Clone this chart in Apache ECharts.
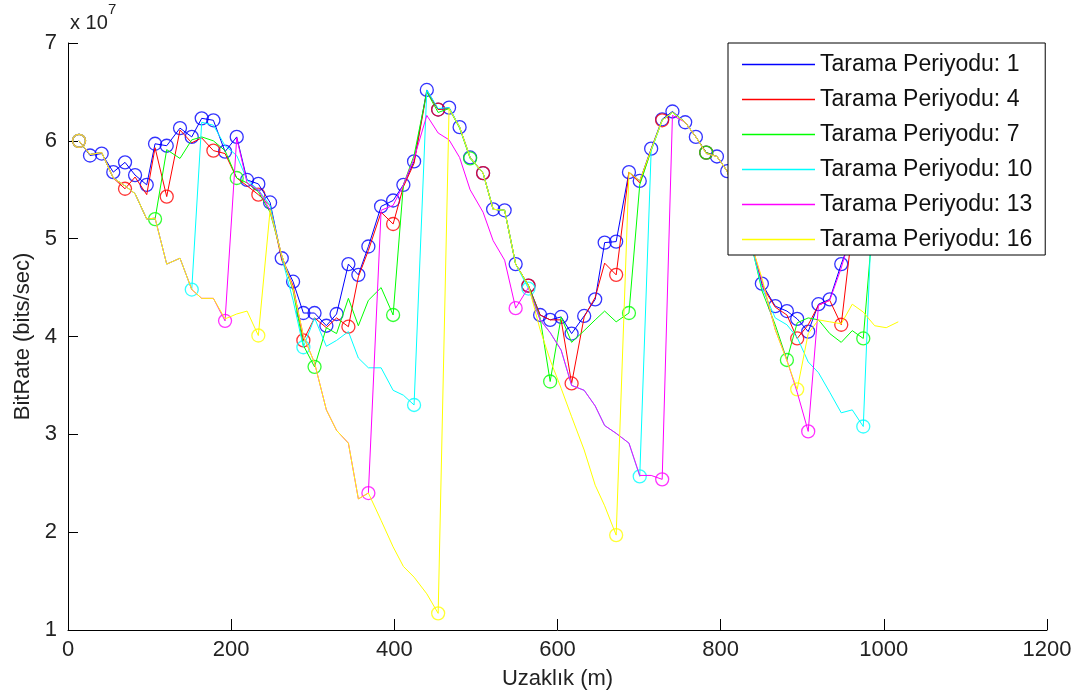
<!DOCTYPE html>
<html><head><meta charset="utf-8">
<script src="https://cdn.jsdelivr.net/npm/echarts@6/dist/echarts.min.js"></script>
<style>html,body{margin:0;padding:0;background:#fff}#c{width:1080px;height:700px}</style>
</head><body><div id="c"></div>
<script>
// Distance (m) of each sample
const distance = [13.5, 27.0, 41.3, 55.5, 69.9, 82.2, 96.5, 106.7, 121.0, 137.3,
151.7, 163.9, 178.2, 192.5, 206.8, 219.5, 233.3, 247.7, 262.0, 275.9,
288.5, 302.2, 316.7, 329.2, 343.7, 355.9, 368.2, 383.8, 398.5, 411.1,
424.2, 439.8, 453.7, 467.1, 480.0, 492.9, 508.8, 521.1, 535.2, 548.7,
564.4, 578.7, 591.0, 604.5, 617.3, 632.7, 646.2, 657.8, 671.9, 687.6,
700.8, 714.8, 728.3, 740.9, 756.5, 769.6, 782.3, 795.4, 808.0, 822.7,
836.2, 850.5, 866.9, 881.2, 893.8, 907.3, 919.9, 933.7, 947.8, 961.3,
974.8, 988.8, 1002.9, 1017.7];

// BitRate in units of 10^7 bits/sec
const period1 = [6.00, 5.85, 5.87, 5.68, 5.78, 5.65, 5.55, 5.97, 5.95, 6.13,
6.04, 6.23, 6.21, 5.89, 6.04, 5.60, 5.56, 5.37, 4.80, 4.56,
4.24, 4.24, 4.11, 4.23, 4.74, 4.63, 4.92, 5.33, 5.39, 5.55,
5.79, 6.52, 6.32, 6.34, 6.14, 5.83, 5.67, 5.30, 5.29, 4.74,
4.52, 4.22, 4.17, 4.20, 4.03, 4.21, 4.38, 4.96, 4.97, 5.68,
5.59, 5.92, 6.22, 6.30, 6.19, 6.04, 5.88, 5.84, 5.69, 5.34,
5.00, 4.54, 4.31, 4.26, 4.18, 4.05, 4.33, 4.38, 4.74, 5.04,
5.34, 5.50, 5.60, 5.65];

const period4 = [6.00, 5.86, 5.88, 5.62, 5.51, 5.63, 5.45, 5.93, 5.43, 6.11,
5.98, 6.03, 5.90, 5.87, 5.62, 5.54, 5.45, 5.34, 4.78, 4.52,
3.96, 4.19, 4.09, 4.19, 4.10, 4.61, 4.88, 5.27, 5.15, 5.53,
5.77, 6.50, 6.32, 6.33, 6.14, 5.83, 5.67, 5.30, 5.29, 4.74,
4.52, 4.22, 4.17, 4.17, 3.52, 4.20, 4.40, 4.75, 4.63, 5.68,
5.57, 5.91, 6.21, 6.29, 6.19, 6.04, 5.88, 5.84, 5.69, 5.34,
5.00, 4.52, 4.30, 4.22, 3.98, 4.12, 4.32, 4.37, 4.12, 5.09,
5.34, 5.50, 5.60, 5.65];

const period7 = [6.00, 5.86, 5.88, 5.62, 5.54, 5.46, 5.20, 5.20, 5.91, 5.82,
6.01, 6.04, 6.00, 5.90, 5.62, 5.57, 5.48, 5.27, 4.83, 4.47,
3.91, 3.69, 4.09, 4.03, 4.39, 4.11, 4.37, 4.50, 4.22, 5.55,
5.85, 6.50, 6.29, 6.33, 6.13, 5.82, 5.67, 5.30, 5.29, 4.74,
4.52, 4.19, 3.54, 4.20, 3.94, 4.06, 4.17, 4.26, 4.15, 4.24,
5.55, 5.90, 6.21, 6.29, 6.19, 6.04, 5.88, 5.84, 5.69, 5.34,
5.00, 4.47, 4.12, 3.76, 4.14, 4.19, 4.17, 4.03, 3.94, 4.06,
3.98, 5.39, 5.55, 5.62];

const period10 = [6.00, 5.86, 5.88, 5.62, 5.54, 5.46, 5.20, 5.21, 4.74, 4.80,
4.48, 6.19, 6.16, 5.95, 5.85, 5.60, 5.50, 5.34, 4.81, 4.37,
3.89, 4.19, 3.90, 3.96, 4.05, 3.78, 3.68, 3.68, 3.45, 3.40,
3.30, 6.52, 6.33, 6.34, 6.14, 5.83, 5.67, 5.30, 5.29, 4.74,
4.49, 4.17, 4.04, 3.86, 3.50, 3.45, 3.29, 3.09, 3.01, 2.91,
2.57, 5.90, 6.21, 6.29, 6.19, 6.04, 5.87, 5.84, 5.69, 5.34,
4.98, 4.50, 4.19, 4.12, 3.99, 3.74, 3.63, 3.43, 3.22, 3.25,
3.08, 5.99, 5.65, 5.70];

const period13 = [6.00, 5.86, 5.88, 5.62, 5.54, 5.46, 5.20, 5.21, 4.74, 4.80,
4.48, 4.39, 4.39, 4.16, 6.03, 5.57, 5.50, 5.29, 4.83, 4.49,
4.01, 3.73, 3.25, 3.04, 2.91, 2.34, 2.40, 5.29, 5.34, 5.55,
5.82, 6.26, 6.08, 6.01, 5.83, 5.50, 5.27, 4.98, 4.78, 4.29,
4.50, 4.17, 4.04, 3.86, 3.50, 3.45, 3.29, 3.09, 3.01, 2.91,
2.58, 2.58, 2.54, 6.26, 6.19, 6.04, 5.87, 5.84, 5.69, 5.34,
4.98, 4.58, 4.07, 3.76, 3.43, 3.03, 4.32, 4.37, 4.70, 5.09,
5.34, 5.50, 5.60, 5.65];

const period16 = [6.00, 5.86, 5.88, 5.62, 5.54, 5.46, 5.20, 5.21, 4.74, 4.80,
4.48, 4.39, 4.39, 4.18, 4.23, 4.26, 4.01, 5.29, 4.83, 4.49,
4.01, 3.73, 3.25, 3.04, 2.91, 2.34, 2.40, 2.12, 1.85, 1.65,
1.54, 1.37, 1.17, 6.33, 6.14, 5.83, 5.67, 5.30, 5.29, 4.74,
4.52, 4.07, 3.76, 3.47, 3.18, 2.84, 2.48, 2.27, 1.97, 5.68,
5.59, 5.91, 6.21, 6.29, 6.19, 6.04, 5.87, 5.84, 5.69, 5.29,
4.98, 4.60, 4.07, 3.75, 3.46, 4.03, 4.17, 4.15, 4.13, 4.33,
4.25, 4.11, 4.09, 4.15];

const periods = [1, 4, 7, 10, 13, 16];
const seriesValues = [period1, period4, period7, period10, period13, period16];
const seriesNames = periods.map(p => 'Tarama Periyodu: ' + p);
const colors = ['#0000ff', '#ff0000', '#00ff00', '#00ffff', '#ff00ff', '#ffff00'];

const xTicks = [0, 200, 400, 600, 800, 1000, 1200];
const yTicks = [1, 2, 3, 4, 5, 6, 7];

const FONT = '"Liberation Sans", Arial, Helvetica, sans-serif';
const chart = echarts.init(document.getElementById('c'), null, {renderer: 'canvas'});

const series = [];
seriesValues.forEach((vals, k) => {
  const pts = distance.map((x, i) => [x, vals[i]]);
  series.push({
    type: 'line', name: seriesNames[k], data: pts,
    symbol: 'none', showSymbol: false,
    lineStyle: {color: colors[k], width: 1},
    itemStyle: {color: colors[k]},
    emphasis: {disabled: true}, silent: true, animation: false
  });
  series.push({
    type: 'scatter', name: 'markers ' + periods[k],
    data: pts.filter((p, i) => i % periods[k] === 0),
    symbol: 'circle', symbolSize: 13,
    itemStyle: {color: 'rgba(0,0,0,0)', borderColor: colors[k], borderWidth: 1.3},
    emphasis: {disabled: true}, silent: true, animation: false
  });
});

chart.setOption({
  backgroundColor: '#fff',
  animation: false,
  grid: {left: 68, top: 43, right: 33, bottom: 70, containLabel: false},
  xAxis: {
    type: 'value', min: xTicks[0], max: xTicks[xTicks.length - 1], interval: 200,
    name: 'Uzaklık (m)', nameLocation: 'middle', nameGap: 38,
    nameTextStyle: {fontFamily: FONT, fontSize: 22, color: '#222'},
    axisLine: {show: true, lineStyle: {color: '#000', width: 1}},
    axisTick: {show: true, inside: true, length: 11, lineStyle: {color: '#000', width: 1}},
    axisLabel: {fontFamily: FONT, fontSize: 22, color: '#222', margin: 9,
      formatter: v => String(v)},
    splitLine: {show: false}
  },
  yAxis: {
    type: 'value', min: yTicks[0], max: yTicks[yTicks.length - 1], interval: 1,
    name: 'BitRate (bits/sec)', nameLocation: 'middle', nameGap: 34, nameRotate: 90,
    nameTextStyle: {fontFamily: FONT, fontSize: 22, color: '#222'},
    axisLine: {show: true, lineStyle: {color: '#000', width: 1}},
    axisTick: {show: true, inside: true, length: 10, lineStyle: {color: '#000', width: 1}},
    axisLabel: {fontFamily: FONT, fontSize: 22, color: '#222', margin: 11,
      formatter: v => String(v)},
    splitLine: {show: false}
  },
  legend: {
    orient: 'vertical', left: 728, top: 43,
    padding: [10, 13, 4, 14], itemGap: 12, itemWidth: 73, itemHeight: 1.5,
    icon: 'rect',
    backgroundColor: '#fff', borderColor: '#000', borderWidth: 1, borderRadius: 0,
    textStyle: {fontFamily: FONT, fontSize: 23, color: '#111', lineHeight: 23},
    data: seriesNames.map(n => ({name: n, icon: 'rect'})), selectedMode: false
  },
  graphic: [
    {type: 'text', left: 70, top: 13, style: {text: 'x 10', font: '20px ' + FONT, fill: '#222'}},
    {type: 'text', left: 108, top: 2, style: {text: '7', font: '15px ' + FONT, fill: '#222'}}
  ],
  series: series
});
</script>
</body></html>
